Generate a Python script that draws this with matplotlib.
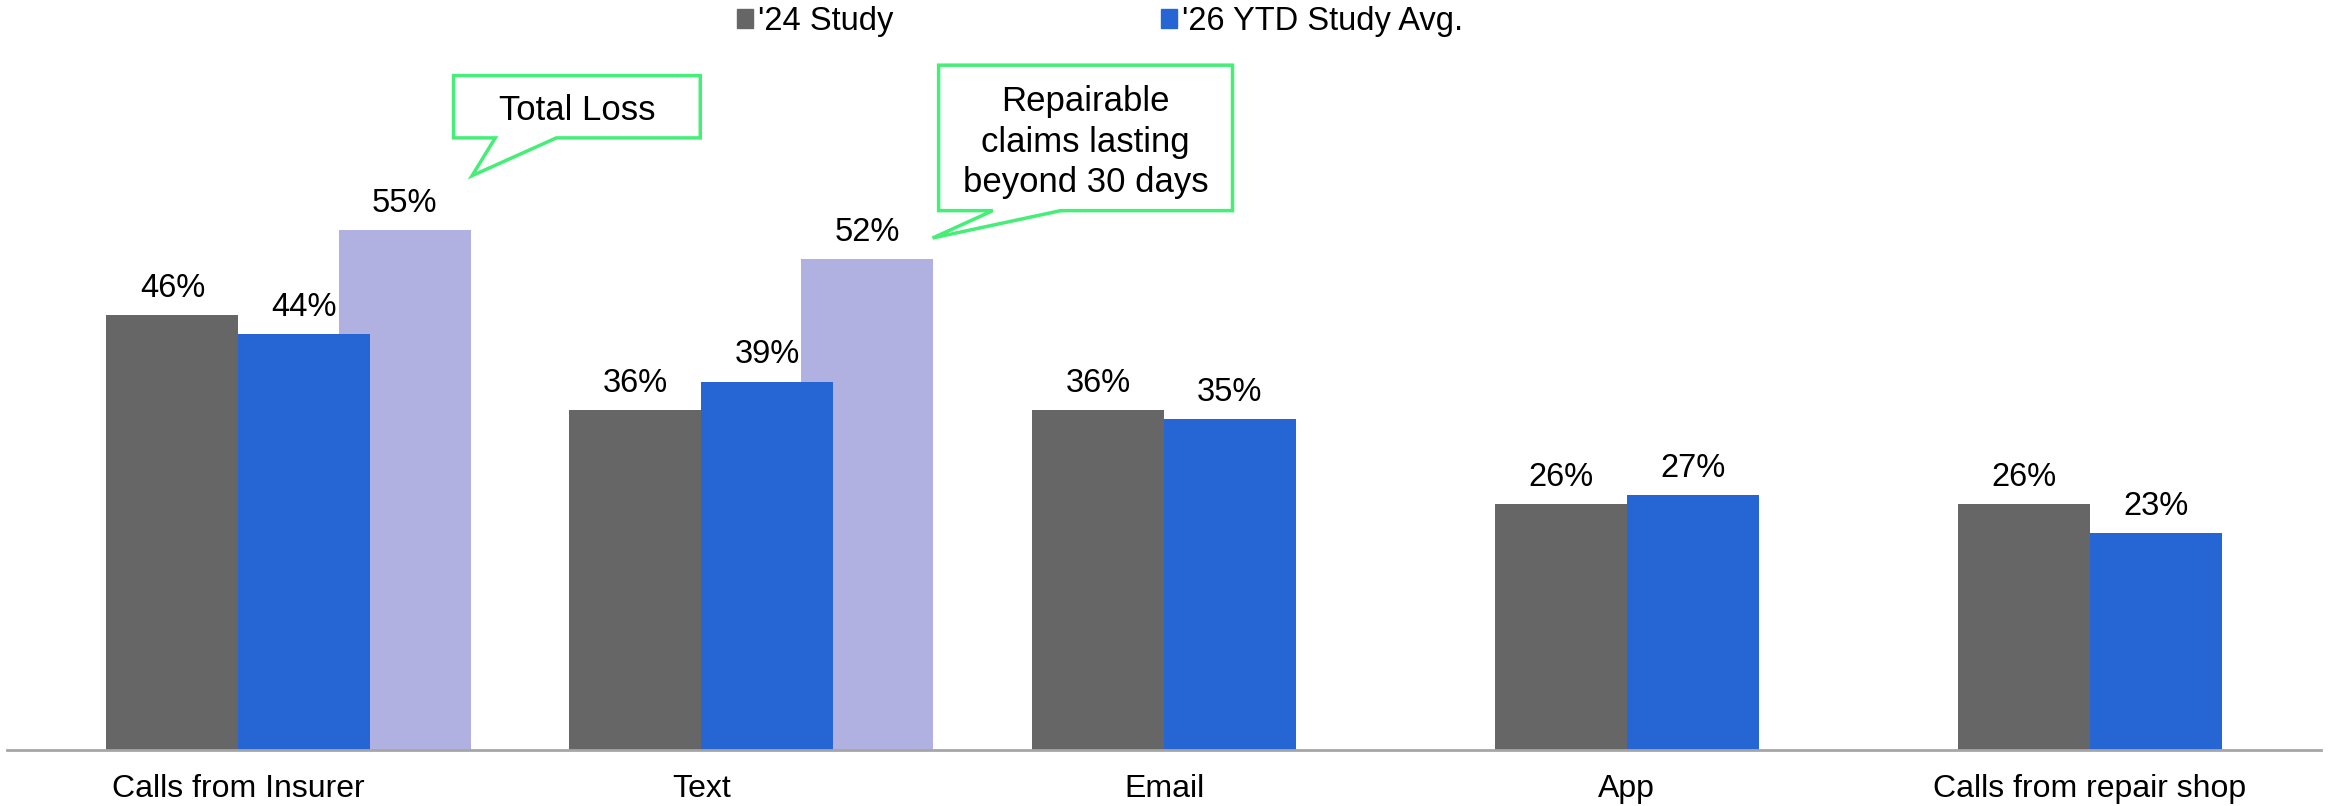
import matplotlib
matplotlib.use("Agg")
import matplotlib.pyplot as plt
from matplotlib.patches import Polygon, Patch
import numpy as np

plt.rcParams['font.family'] = ['Liberation Sans', 'DejaVu Sans']

categories = ["Calls from Insurer", "Text", "Email", "App", "Calls from repair shop"]
study_24 = [46, 36, 36, 26, 26]
ytd_26 = [44, 39, 35, 27, 23]
# extra breakdown bars for the first two categories
extra_vals = [55, 52]
extra_notes = ["Total Loss", "Repairable\nclaims lasting\nbeyond 30 days"]

GRAY = "#666666"
BLUE = "#2666D4"
LAV = "#B1B1E1"
GREEN = "#44EE77"

fig = plt.figure(figsize=(23.28, 8.06), dpi=100)
ax = fig.add_axes([0.003, 0.0695, 0.994, 0.9305])

x = np.arange(len(categories))
w = 0.285

b3 = ax.bar(x[:2] + w * 1.26, extra_vals, w, color=LAV, zorder=1)
b1 = ax.bar(x - w / 2, study_24, w, color=GRAY, zorder=2)
b2 = ax.bar(x + w / 2, ytd_26, w, color=BLUE, zorder=2)

for bars in (b1, b2, b3):
    for r in bars:
        ax.annotate(f"{r.get_height():.0f}%", (r.get_x() + r.get_width() / 2, r.get_height()),
                    xytext=(0, 8), textcoords="offset points", ha="center", va="bottom",
                    fontsize=23.5, zorder=3)

# callout bubbles: box plus tail, relative to the extra bars
callouts = [
    # (box x0, x1, y top, y bottom, tail base x0, x1, tip x, tip y)
    (0.465, 0.998, 71.4, 64.8, 0.555, 0.687, 0.505, 60.8),
    (1.513, 2.148, 72.5, 57.1, 1.630, 1.777, 1.500, 54.2),
]
for (bx0, bx1, yt, yb, tx0, tx1, px, py), note in zip(callouts, extra_notes):
    pts = [(bx0, yt), (bx1, yt), (bx1, yb), (tx1, yb), (px, py), (tx0, yb), (bx0, yb)]
    ax.add_patch(Polygon(pts, closed=True, facecolor="white", edgecolor=GREEN, lw=2.5, zorder=4))
    ax.text((bx0 + bx1) / 2, (yt + yb) / 2 - 0.45, note, ha="center", va="center",
            fontsize=25, linespacing=1.3, zorder=5)

ax.set_xlim(-0.5, 4.5)
ax.set_ylim(0, 79.4)
ax.set_xticks(x)
ax.set_xticklabels(categories, fontsize=23)
ax.tick_params(axis="x", length=0, pad=17)
ax.set_yticks([])
for s in ("top", "right", "left"):
    ax.spines[s].set_visible(False)
ax.spines["bottom"].set_color("#A6A6A6")
ax.spines["bottom"].set_linewidth(2)

handles = [Patch(color=GRAY), Patch(color=BLUE)]
fig.legend(handles, ["'24 Study", "'26 YTD Study Avg."], loc="center",
           bbox_to_anchor=(0.4726, 0.973), ncol=2, frameon=False, fontsize=23.5,
           handlelength=0.5, handleheight=0.5, handletextpad=0.15, columnspacing=8.2)

fig.savefig("out.png", dpi=100)
